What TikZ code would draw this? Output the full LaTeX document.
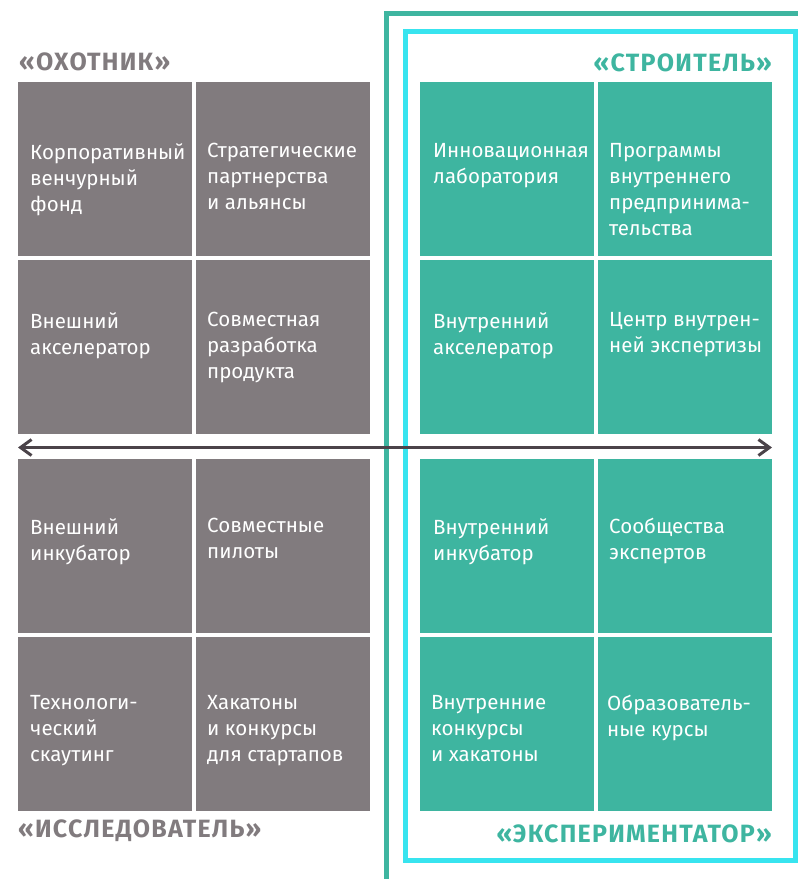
\documentclass[tikz,border=0pt]{standalone}
\usepackage{fontspec}
\setmainfont{Fira Sans}
\newfontfamily\titlefont[LetterSpace=5]{Fira Sans}
\usetikzlibrary{arrows.meta}
\definecolor{boxgray}{HTML}{817B7E}
\definecolor{boxteal}{HTML}{3EB5A0}
\definecolor{framecyan}{HTML}{38E4EF}
\definecolor{axisdark}{HTML}{4B4349}
\begin{document}
\begin{tikzpicture}[x=1pt,y=-1pt,
	cell/.style={anchor=north west,minimum width=174pt,minimum height=174pt,inner sep=0pt,outer sep=0pt},
	hunter/.style={cell,fill=boxgray},
	builder/.style={cell,fill=boxteal},
	celltext/.style={anchor=north west,inner sep=0pt,align=left,text=white,font=\fontsize{20.5}{26}\selectfont},
	title/.style={inner sep=0pt,font=\titlefont\fontsize{25}{28}\selectfont\bfseries}]
	\useasboundingbox (0,0) rectangle (798,879);
	\draw [framecyan, line width=5pt] (405.5,31.5) rectangle (795.5,860.5);
	\draw [boxteal, line width=5pt] (386.5,879) -- (386.5,13.5) -- (798,13.5);
	\node [hunter] (c11) at (18,82) {};
	\node [hunter] (c12) at (196,82) {};
	\node [builder] (c13) at (420,82) {};
	\node [builder] (c14) at (598,82) {};
	\node [hunter] (c21) at (18,260) {};
	\node [hunter] (c22) at (196,260) {};
	\node [builder] (c23) at (420,260) {};
	\node [builder] (c24) at (598,260) {};
	\node [hunter] (c31) at (18,459) {};
	\node [hunter] (c32) at (196,459) {};
	\node [builder] (c33) at (420,459) {};
	\node [builder] (c34) at (598,459) {};
	\node [hunter] (c41) at (18,637) {};
	\node [hunter] (c42) at (196,637) {};
	\node [builder] (c43) at (420,637) {};
	\node [builder] (c44) at (598,637) {};
	\node [celltext] (t11) at (30,143) {Корпоративный\\венчурный\\фонд};
	\node [celltext] (t12) at (207,143) {Стратегические\\партнерства\\и альянсы};
	\node [celltext] (t13) at (433,143) {Инновационная\\лаборатория};
	\node [celltext] (t14) at (609,143) {Программы\\внутреннего\\предпринима-\\тельства};
	\node [celltext] (t21) at (30,312) {Внешний\\акселератор};
	\node [celltext] (t22) at (207,312) {Совместная\\разработка\\продукта};
	\node [celltext] (t23) at (433,312) {Внутренний\\акселератор};
	\node [celltext] (t24) at (609,312) {Центр внутрен-\\ней экспертизы};
	\node [celltext] (t31) at (30,518) {Внешний\\инкубатор};
	\node [celltext] (t32) at (207,518) {Совместные\\пилоты};
	\node [celltext] (t33) at (433,518) {Внутренний\\инкубатор};
	\node [celltext] (t34) at (609,518) {Сообщества\\экспертов};
	\node [celltext] (t41) at (30,695) {Технологи-\\ческий\\скаутинг};
	\node [celltext] (t42) at (207,695) {Хакатоны\\и конкурсы\\для стартапов};
	\node [celltext] (t43) at (431,695) {Внутренние\\конкурсы\\и хакатоны};
	\node [celltext] (t44) at (607,695) {Образователь-\\ные курсы};
	\node [title, text=boxgray, anchor=west] (hunterlabel) at (19,62) {«ОХОТНИК»};
	\node [title, text=boxteal, anchor=east] (builderlabel) at (772,63) {«СТРОИТЕЛЬ»};
	\node [title, text=boxgray, anchor=west] (explorerlabel) at (18,831) {«ИССЛЕДОВАТЕЛЬ»};
	\node [title, text=boxteal, anchor=east] (testerlabel) at (772,834) {«ЭКСПЕРИМЕНТАТОР»};
	\coordinate (axisw) at (18,447.5);
	\coordinate (axise) at (772,447.5);
	\draw [axisdark, line width=3pt, {Straight Barb[length=11pt,width=16pt]}-{Straight Barb[length=11pt,width=16pt]}] (axisw) -- (axise);
\end{tikzpicture}
\end{document}
